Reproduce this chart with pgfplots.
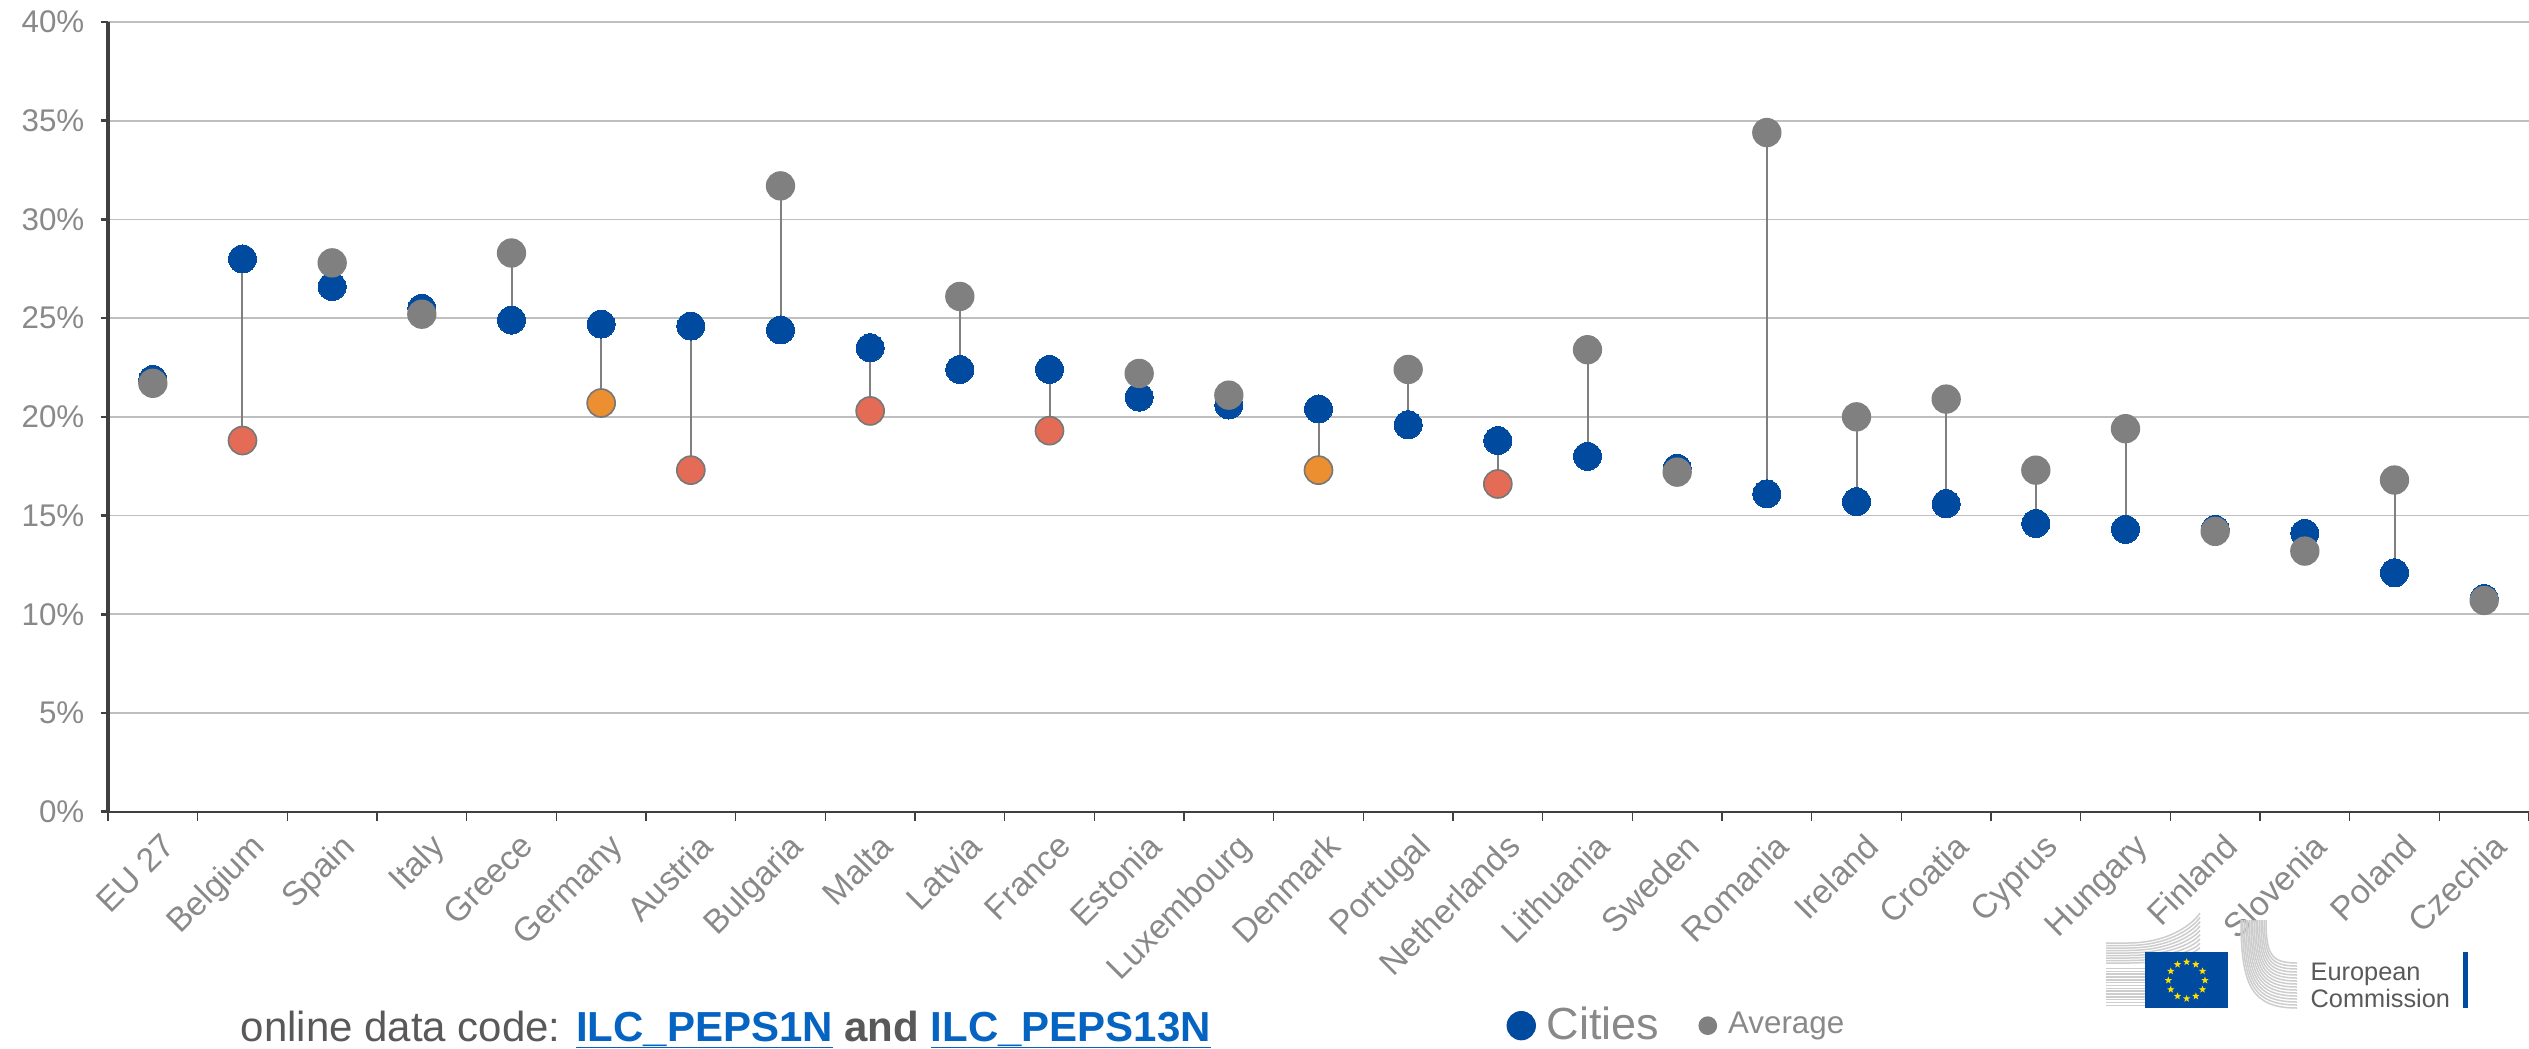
\documentclass[border=0pt]{standalone}
\usepackage{pgfplots}
\pgfplotsset{compat=1.18}
\usepackage{pgfplotstable}
\usepackage{fontspec}
\setmainfont{Liberation Sans}
\usetikzlibrary{shapes.geometric,calc}

\definecolor{eublue}{RGB}{0,75,160}
\definecolor{avggray}{RGB}{128,128,128}
\definecolor{avgred}{RGB}{228,108,86}
\definecolor{avgorange}{RGB}{235,143,48}
\definecolor{edgegray}{RGB}{120,120,120}
\definecolor{gridgray}{RGB}{191,191,191}
\definecolor{labgray}{RGB}{137,137,137}
\definecolor{linegray}{RGB}{127,127,127}
\definecolor{axisdark}{RGB}{64,64,64}
\definecolor{textdark}{RGB}{89,89,89}
\definecolor{codeblue}{RGB}{5,99,193}
\definecolor{logogray}{RGB}{205,205,205}
\definecolor{staryellow}{RGB}{255,221,0}

% underline drawn as a rule below the text
\newlength\ulwidth
\newcommand\codelink[1]{\settowidth{\ulwidth}{#1}\rlap{\rule[-2pt]{\ulwidth}{0.5pt}}#1}

% i = position, c = cities, a = average, cls = colour class of the average dot
\pgfplotstableread{
i  c     a     cls
0  21.9  21.7  g
1  28.0  18.8  r
2  26.6  27.8  g
3  25.5  25.2  g
4  24.9  28.3  g
5  24.7  20.7  o
6  24.6  17.3  r
7  24.4  31.7  g
8  23.5  20.3  r
9  22.4  26.1  g
10 22.4  19.3  r
11 21.0  22.2  g
12 20.6  21.1  g
13 20.4  17.3  o
14 19.6  22.4  g
15 18.8  16.6  r
16 18.0  23.4  g
17 17.4  17.2  g
18 16.1  34.4  g
19 15.7  20.0  g
20 15.6  20.9  g
21 14.6  17.3  g
22 14.3  19.4  g
23 14.3  14.2  g
24 14.1  13.2  g
25 12.1  16.8  g
26 10.8  10.7  g
}\gapdata

\begin{document}
\begin{tikzpicture}
\useasboundingbox (-32.4pt,-70.9pt) rectangle (726.3pt,243.5pt);
\begin{axis}[
  at={(0pt,0pt)}, anchor=south west,
  scale only axis,
  width=726.3pt, height=236.9pt,
  xmin=-0.5, xmax=26.5,
  ymin=0, ymax=40,
  enlargelimits=false,
  axis lines=left,
  axis line style={-},
  x axis line style={draw=axisdark, line width=0.6pt},
  y axis line style={draw=axisdark, line width=1pt},
  ymajorgrids,
  grid style={gridgray, line width=0.5pt},
  ytick={0,5,...,40},
  yticklabel={\pgfmathprintnumber{\tick}\%},
  /pgf/number format/assume math mode=true,
  yticklabel style={text=labgray, font=\fontsize{9.4}{11}\selectfont, inner sep=2pt, xshift=-2.7pt},
  xtick={0,...,26},
  xticklabels={EU 27,Belgium,Spain,Italy,Greece,Germany,Austria,Bulgaria,Malta,Latvia,France,Estonia,Luxembourg,Denmark,Portugal,Netherlands,Lithuania,Sweden,Romania,Ireland,Croatia,Cyprus,Hungary,Finland,Slovenia,Poland,Czechia},
  xticklabel style={rotate=45, anchor=north east, text=labgray, font=\fontsize{10.1}{12}\selectfont, inner sep=1pt, yshift=-3pt},
  minor xtick={-0.5,0.5,...,26},
  major x tick style={draw=none},
  minor x tick style={draw=axisdark, line width=0.4pt},
  minor tick length=2.7pt,
  major tick length=2.2pt,
  ytick style={draw=axisdark, line width=0.8pt},
  tick align=outside,
  xtick pos=bottom, ytick pos=left,
  clip=false,
  legend columns=2,
  legend style={at={(axis description cs:0.5777,-0.271)}, anchor=west,
    draw=none, fill=none, inner sep=0pt, text=labgray,
    nodes={inner sep=1.5pt},
    /tikz/every odd column/.append style={column sep=2pt},
    /tikz/every even column/.append style={column sep=10.4pt}},
]
% connectors between the two values of each country
\addplot[draw=none, forget plot,
  error bars/.cd, y dir=plus, y explicit, error mark=none,
  error bar style={draw=linegray, line width=0.6pt}]
  table[x=i, y expr={min(\thisrow{c},\thisrow{a})},
        y error expr={abs(\thisrow{a}-\thisrow{c})}] {\gapdata};
% cities
\addplot[only marks, forget plot, mark=*, mark size=4.2pt,
  mark options={fill=eublue, draw=eublue, line width=0pt}]
  table[x=i, y=c] {\gapdata};
% national average
\addplot[scatter, only marks, forget plot, mark=*, mark size=4.2pt,
  scatter src=explicit symbolic,
  scatter/classes={
    g={mark=*, fill=avggray, draw=avggray},
    r={mark=*, fill=avgred, draw=edgegray, line width=0.5pt},
    o={mark=*, fill=avgorange, draw=edgegray, line width=0.5pt}}]
  table[x=i, y=a, meta=cls] {\gapdata};

\addlegendimage{only marks, mark=*, mark size=4.2pt, mark options={fill=eublue, draw=eublue}}
\addlegendentry{\fontsize{13.5}{15}\selectfont Cities}
\addlegendimage{only marks, mark=*, mark size=2.6pt, mark options={fill=avggray, draw=avggray}}
\addlegendentry{\fontsize{9.4}{10}\selectfont Average}
\end{axis}

% source line
\node[anchor=base west, inner sep=0pt, font=\fontsize{12.6}{14}\selectfont, text=textdark]
  at (39.6pt,-69pt)
  {online data code: {\bfseries\color{codeblue}\codelink{ILC\_PEPS1N}} {\bfseries and} {\bfseries\color{codeblue}\codelink{ILC\_PEPS13N}}};

% European Commission logo
\begin{scope}
  % left wing of the building
  \foreach \i in {0,...,8}{
    \draw[logogray, line width=0.45pt]
      (599.4pt,{-39.4pt-0.75pt*\i}) -- (606pt,{-39.4pt-0.75pt*\i})
      .. controls (619pt,{-39.4pt-0.75pt*\i}) and (626pt,{-33pt-1.2pt*\i}) .. (627.6pt,{-30.4pt-1.3pt*\i});
  }
  \foreach \i in {9,...,22}{
    \draw[logogray, line width=0.45pt] (599.4pt,{-39.4pt-0.85pt*\i}) -- (612pt,{-39.4pt-0.85pt*\i});
  }
  % right wing of the building
  \foreach \j in {0,...,15}{
    \draw[logogray, line width=0.45pt]
      ({639.9pt+0.5pt*\j},-32.5pt) .. controls ({639.9pt+0.5pt*\j},{-52pt+0.6pt*\j}) and ({643pt+0.4pt*\j},{-58.9pt+0.9pt*\j}) .. (656.7pt,{-58.9pt+0.9pt*\j});
  }
  \fill[eublue] (611.1pt,-58.9pt) rectangle (636pt,-42.1pt);
  \foreach \ang in {0,30,...,330}{
    \node[star, star points=5, star point ratio=2.4, fill=staryellow, inner sep=0pt, minimum size=2.3pt]
      at ($(623.6pt,-50.6pt)+(\ang:5.5pt)$) {};
  }
  \node[anchor=base west, inner sep=0pt, font=\fontsize{7.6}{9}\selectfont, text=textdark] at (660.6pt,-50.5pt) {European};
  \node[anchor=base west, inner sep=0pt, font=\fontsize{7.6}{9}\selectfont, text=textdark] at (660.6pt,-58.6pt) {Commission};
  \fill[eublue] (706.6pt,-58.9pt) rectangle (708pt,-42.1pt);
\end{scope}
\end{tikzpicture}
\end{document}
